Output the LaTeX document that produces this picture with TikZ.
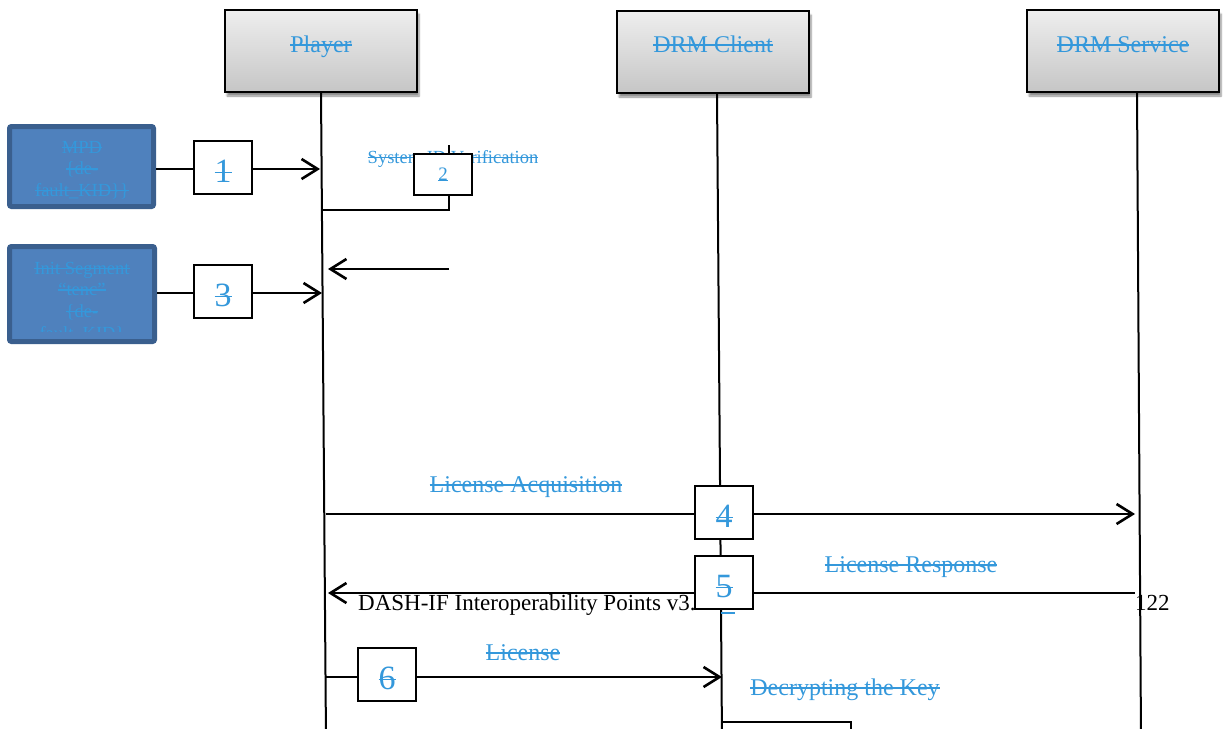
\documentclass[tikz,border=0pt]{standalone}
\usepackage{fontspec}
\setmainfont{Liberation Serif}
\usetikzlibrary{arrows.meta,shadows.blur}
\definecolor{lblblue}{HTML}{3498DB}
\definecolor{boxblue}{HTML}{4F81BD}
\definecolor{boxedge}{HTML}{3A5F8E}
\newcommand{\fs}[1]{\fontsize{#1}{#1}\selectfont}
% struck-through and underlined text, drawn with rules
\newsavebox{\stkbox}
\newcommand{\stk}[1]{\sbox{\stkbox}{#1}\rlap{\rule[0.26em]{\wd\stkbox}{1.5pt}}\usebox{\stkbox}}
\newcommand{\undl}[1]{\sbox{\stkbox}{#1}\rlap{\rule[-0.04em]{\wd\stkbox}{1.5pt}}\usebox{\stkbox}}

\tikzset{
  hdr/.style={draw=black, line width=2pt, top color=gray!13, bottom color=gray!45,
    minimum width=192pt, minimum height=82pt, inner sep=0pt,
    blur shadow={shadow xshift=2pt, shadow yshift=-4pt, shadow opacity=45, shadow blur steps=6}},
  hdrtxt/.style={anchor=base, inner sep=0pt, text=lblblue, font=\fs{24}},
  lbl/.style={anchor=base, inner sep=0pt, text=lblblue, font=\fs{24}},
  numbox/.style={draw=black, fill=white, line width=2.2pt, minimum width=58pt,
    minimum height=53pt, inner sep=0pt, text=lblblue, font=\fs{34},
    text height=29pt, text depth=0pt},
  srcbox/.style={draw=boxedge, fill=boxblue, line width=5pt, rounded corners=2pt},
  srctxt/.style={anchor=base, inner sep=0pt, text=lblblue, font=\fs{18.5}},
  life/.style={line width=2pt},
  msg/.style={line width=2.6pt, -{Straight Barb[length=16pt,width=20pt]}},
  plain/.style={line width=2.3pt},
}

\begin{document}
\begin{tikzpicture}[x=1pt,y=-1pt]
\useasboundingbox (0,0) rectangle (1223,728);
\clip (0,0) rectangle (1223,728);

% lifeline heads
\node[hdr] (player) at (321,51) {};
\node[hdr] (client) at (713,52) {};
\node[hdr] (service) at (1123,51) {};
\node[hdrtxt] (playerT) at (321,52) {\stk{Player}};
\node[hdrtxt] (clientT) at (713,52) {\stk{DRM Client}};
\node[hdrtxt] (serviceT) at (1123,52) {\stk{DRM Service}};

% lifelines
\coordinate (playerTop) at (321,92);
\coordinate (clientTop) at (717,93);
\coordinate (serviceTop) at (1137,92);
\coordinate (playerEnd) at (326,740);
\coordinate (clientEnd) at (722,740);
\coordinate (serviceEnd) at (1141,740);
\draw[life] (playerTop) -- (playerEnd);
\draw[life] (clientTop) -- (clientEnd);
\draw[life] (serviceTop) -- (serviceEnd);

% input sources
\draw[srcbox] (9.5,126.5) rectangle (153.5,206.5);
\coordinate (mpd) at (156,169);
\node[srctxt] (mpdA) at (82,153) {\stk{MPD}};
\node[srctxt] (mpdB) at (82,174.5) {\stk{\{de-}};
\node[srctxt] (mpdC) at (82,196) {\stk{fault\_KID\}\}}};

\draw[srcbox] (9.5,246.5) rectangle (154.5,341.5);
\coordinate (init) at (157,293);
\begin{scope}
  \clip (12,249) rectangle (152,331);
  \node[srctxt] (initA) at (82,274) {\stk{Init Segment}};
  \node[srctxt] (initB) at (82,295.5) {\stk{“tenc”}};
  \node[srctxt] (initC) at (82,317) {\stk{\{de-}};
  \node[srctxt] (initD) at (82,339) {\stk{fault\_KID\}}};
\end{scope}

% message end points on the lifelines
\coordinate (p1) at (320,169);
\coordinate (p3) at (322,293);
\coordinate (pSysA) at (321.5,210);
\coordinate (pSysB) at (328,269);
\coordinate (sysTop) at (449,145);
\coordinate (sysBot) at (449,210);
\coordinate (sysRet) at (449,269);
\coordinate (p4a) at (326,514);
\coordinate (p4b) at (1135,514);
\coordinate (p5a) at (1135,593);
\coordinate (p5b) at (328,593);
\coordinate (p6a) at (326,677);
\coordinate (p6b) at (722,677);

% messages
\draw[msg] (mpd) -- (p1);
\draw[msg] (init) -- (p3);
\node[lbl, font=\fs{18.5}] (sysT) at (453,163) {\stk{System ID Verification}};
\draw[plain] (sysTop) -- (sysBot) -- (pSysA);
\draw[msg] (sysRet) -- (pSysB);

\node[lbl] (acqT) at (526,492) {\stk{License Acquisition}};
\draw[msg] (p4a) -- (p4b);

\node[anchor=base west, inner sep=0pt, font=\fs{23}] (footer) at (358,610) {DASH-IF Interoperability Points v3.2};
\node[anchor=base west, inner sep=0pt, font=\fs{23}] (page) at (1135,610) {122};
\node[lbl] (respT) at (911,572) {\stk{License Response}};
\draw[msg] (p5a) -- (p5b);

\node[lbl] (licT) at (523,660) {\stk{License}};
\draw[msg] (p6a) -- (p6b);
\node[lbl] (decT) at (845,695) {\stk{Decrypting the Key}};

% step numbers
\node[numbox] (n1) at (223,167.5) {\stk{1}};
\node[numbox, font=\fs{19}, minimum height=41pt, text height=12pt] (n2) at (443,174.5) {\undl{2}};
\node[numbox] (n3) at (223,291.5) {\stk{3}};
\node[numbox] (n4) at (724,512.5) {\stk{4}};
\node[numbox] (n5) at (724,582.5) {\stk{5}};
\node[numbox] (n6) at (387,674.5) {\stk{6}};
\coordinate (ulA) at (721,613);
\coordinate (ulB) at (735,613);
\draw[lblblue, line width=1.6pt] (ulA) -- (ulB);

% decrypt box
\coordinate (decA) at (722,722);
\coordinate (decB) at (851,750);
\draw[plain] (decA) rectangle (decB);
\end{tikzpicture}
\end{document}
